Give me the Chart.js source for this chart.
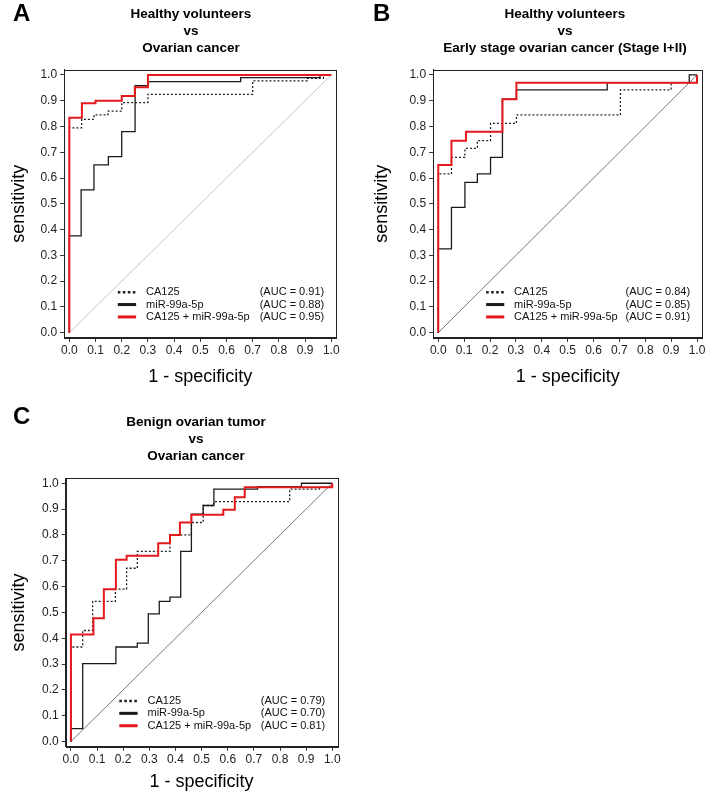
<!DOCTYPE html>
<html>
<head>
<meta charset="utf-8">
<script src="https://cdn.jsdelivr.net/npm/chart.js@4.4.1/dist/chart.umd.min.js"></script>
<style>
  html, body { margin: 0; padding: 0; background: #fff; }
  #page { position: relative; width: 709px; height: 793px; overflow: hidden; font-family: 'Liberation Sans', Arial, sans-serif; }
  canvas { position: absolute; left: 0; top: 0; }
  .letter { position: absolute; font-weight: bold; font-size: 24px; line-height: 24px; color: #000; }
  .title { position: absolute; width: 340px; margin-left: -170px; text-align: center; font-weight: bold; font-size: 13.5px; line-height: 17px; color: #000; }
</style>
</head>
<body>
<div id="page">
  <canvas id="chartA" width="709" height="793"></canvas>
  <canvas id="chartB" width="709" height="793"></canvas>
  <canvas id="chartC" width="709" height="793"></canvas>

  <div class="letter" style="left:13px;top:1px">A</div>
  <div class="title" style="left:191px;top:5px">Healthy volunteers<br>vs<br>Ovarian cancer</div>

  <div class="letter" style="left:373px;top:1px">B</div>
  <div class="title" style="left:565px;top:5px">Healthy volunteers<br>vs<br>Early stage ovarian cancer (Stage I+II)</div>

  <div class="letter" style="left:13px;top:404px">C</div>
  <div class="title" style="left:196px;top:413px">Benign ovarian tumor<br>vs<br>Ovarian cancer</div>
</div>

<script>
// ---- data ----
const tickValues = [0, 0.1, 0.2, 0.3, 0.4, 0.5, 0.6, 0.7, 0.8, 0.9, 1.0];
const seriesNames = ["CA125", "miR-99a-5p", "CA125 + miR-99a-5p"];
const diagFpr = [0, 1];
const diagTpr = [0, 1];

// A: healthy volunteers vs ovarian cancer
const aCa125Fpr = [0, 0, 0.047, 0.094, 0.147, 0.20, 0.30, 0.70, 0.908, 0.97, 1.0];
const aCa125Tpr = [0, 0.795, 0.828, 0.845, 0.86, 0.893, 0.925, 0.977, 0.987, 1.0, 1.0];
const aMirFpr = [0, 0, 0.045, 0.094, 0.149, 0.20, 0.251, 0.302, 0.654, 0.957, 1.0];
const aMirTpr = [0, 0.376, 0.554, 0.651, 0.683, 0.78, 0.959, 0.974, 0.99, 1.0, 1.0];
const aComboFpr = [0, 0, 0.048, 0.10, 0.20, 0.25, 0.30, 1.0];
const aComboTpr = [0, 0.834, 0.89, 0.90, 0.918, 0.952, 1.0, 1.0];
const aucA = ["0.91", "0.88", "0.95"];

// B: healthy volunteers vs early stage ovarian cancer
const bCa125Fpr = [0, 0, 0.051, 0.103, 0.151, 0.202, 0.302, 0.704, 0.90, 1.0];
const bCa125Tpr = [0, 0.616, 0.68, 0.715, 0.745, 0.812, 0.845, 0.942, 0.97, 1.0];
const bMirFpr = [0, 0, 0.051, 0.103, 0.151, 0.202, 0.248, 0.302, 0.653, 0.97, 1.0];
const bMirTpr = [0, 0.325, 0.486, 0.583, 0.616, 0.68, 0.906, 0.942, 0.97, 1.0, 1.0];
const bComboFpr = [0, 0, 0.051, 0.107, 0.248, 0.302, 1.0, 1.0];
const bComboTpr = [0, 0.651, 0.745, 0.78, 0.906, 0.97, 0.97, 1.0];
const aucB = ["0.84", "0.85", "0.91"];

// C: benign ovarian tumor vs ovarian cancer
const cCa125Fpr = [0, 0, 0.045, 0.083, 0.17, 0.213, 0.254, 0.379, 0.461, 0.506, 0.547, 0.837, 0.95, 1.0];
const cCa125Tpr = [0, 0.366, 0.43, 0.543, 0.59, 0.671, 0.736, 0.80, 0.848, 0.914, 0.929, 0.977, 0.985, 1.0];
const cMirFpr = [0, 0, 0.045, 0.172, 0.254, 0.296, 0.338, 0.379, 0.42, 0.461, 0.506, 0.547, 0.714, 0.882, 1.0];
const cMirTpr = [0, 0.05, 0.302, 0.366, 0.381, 0.494, 0.543, 0.559, 0.736, 0.88, 0.914, 0.977, 0.987, 1.0, 1.0];
const cComboFpr = [0, 0, 0.086, 0.126, 0.172, 0.213, 0.334, 0.379, 0.417, 0.461, 0.583, 0.627, 0.665, 1.0, 1.0];
const cComboTpr = [0, 0.414, 0.477, 0.59, 0.704, 0.719, 0.768, 0.80, 0.848, 0.878, 0.897, 0.946, 0.985, 0.985, 1.0];
const aucC = ["0.79", "0.70", "0.81"];

// ---- styling ----
const FONT = "'Liberation Sans', Arial, sans-serif";
const RED = "#e3191c";
const seriesStyles = [
  { color: "#222", width: 1.3, dash: [2, 2], legendWidth: 2.6, legendDash: [2.6, 2.4] },
  { color: "#1a1a1a", width: 1.3, dash: [], legendWidth: 3, legendDash: [] },
  { color: RED, width: 2, dash: [], legendWidth: 3, legendDash: [] },
];
const legendRowOffsets = [40.5, 28.2, 15.8]; // px above y = 0

Chart.defaults.font.family = FONT;

function toPoints(xs, ys) {
  return xs.map((x, i) => ({ x, y: ys[i] }));
}

const boxPlugin = {
  id: "plotBox",
  afterDraw(chart) {
    const { ctx, chartArea: a } = chart;
    ctx.save();
    ctx.strokeStyle = "#222";
    ctx.lineWidth = 1;
    ctx.strokeRect(Math.round(a.left) + 0.5, Math.round(a.top) + 0.5, Math.round(a.right - a.left), Math.round(a.bottom - a.top));
    ctx.restore();
  },
};

const legendPlugin = {
  id: "rocLegend",
  afterDatasetsDraw(chart, args, opts) {
    const { ctx, scales: { x, y } } = chart;
    const y0 = y.getPixelForValue(0);
    const sx0 = x.getPixelForValue(0.185), sx1 = x.getPixelForValue(0.255);
    const tx = x.getPixelForValue(0.293), ax = x.getPixelForValue(0.973);
    ctx.save();
    ctx.font = "11px " + FONT;
    ctx.textBaseline = "middle";
    seriesNames.forEach((name, i) => {
      const st = seriesStyles[i];
      const py = y0 - legendRowOffsets[i];
      ctx.beginPath();
      ctx.setLineDash(st.legendDash);
      ctx.lineWidth = st.legendWidth;
      ctx.strokeStyle = st.color;
      ctx.moveTo(sx0, py);
      ctx.lineTo(sx1, py);
      ctx.stroke();
      ctx.setLineDash([]);
      ctx.fillStyle = "#111";
      ctx.textAlign = "left";
      ctx.fillText(name, tx, py);
      ctx.textAlign = "right";
      ctx.fillText("(AUC = " + opts.auc[i] + ")", ax, py);
    });
    ctx.restore();
  },
};

function buildRocChart(id, geo, curves, auc, diagColor) {
  const yW = geo.l - (geo.yTitleX - 10.8);
  const xH = Math.min(geo.xTitleY + 10.8 - geo.b, 793 - geo.b);
  const xTitlePad = geo.b + xH - 10.8 - geo.xTitleY;

  const stepSet = (c, st) => ({
    data: toPoints(c.fpr, c.tpr),
    borderColor: st.color,
    borderWidth: st.width,
    borderDash: st.dash,
    stepped: "before",
    pointRadius: 0,
    fill: false,
    borderJoinStyle: "miter",
  });

  const datasets = [
    stepSet(curves[2], seriesStyles[2]),
    stepSet(curves[1], seriesStyles[1]),
    stepSet(curves[0], seriesStyles[0]),
    { data: toPoints(diagFpr, diagTpr), borderColor: diagColor, borderWidth: 1, pointRadius: 0, fill: false },
  ];

  const axisCommon = {
    type: "linear",
    min: -0.02,
    max: 1.02,
    afterBuildTicks: (s) => { s.ticks = tickValues.map((v) => ({ value: v })); },
    grid: { drawOnChartArea: false, drawTicks: true, tickLength: 4, color: "#333", tickWidth: 1 },
    border: { display: true, color: "#222", width: 1 },
  };

  return new Chart(document.getElementById(id), {
    type: "line",
    data: { datasets },
    options: {
      responsive: false,
      animation: false,
      devicePixelRatio: 1,
      events: [],
      layout: { padding: { left: geo.l - yW, top: geo.t, right: 709 - geo.r, bottom: 793 - geo.b - xH } },
      plugins: {
        legend: { display: false },
        tooltip: { enabled: false },
        rocLegend: { auc },
      },
      scales: {
        x: {
          ...axisCommon,
          position: "bottom",
          afterFit: (s) => { s.height = xH; s.paddingLeft = 0; s.paddingRight = 0; },
          ticks: { callback: (v) => v.toFixed(1), color: "#222", font: { size: 12 }, padding: 2, maxRotation: 0, autoSkip: false },
          title: { display: true, text: "1 - specificity", color: "#000", font: { size: 18 }, padding: { top: 0, bottom: xTitlePad } },
        },
        y: {
          ...axisCommon,
          position: "left",
          afterFit: (s) => { s.width = yW; s.paddingTop = 0; s.paddingBottom = 0; },
          ticks: { callback: (v) => v.toFixed(1), color: "#222", font: { size: 12 }, padding: 3, autoSkip: false },
          title: { display: true, text: "sensitivity", color: "#000", font: { size: 18 }, padding: { top: 0, bottom: 0 } },
        },
      },
    },
    plugins: [boxPlugin, legendPlugin],
  });
}

buildRocChart("chartA",
  { l: 64.1, t: 69.8, r: 336.5, b: 337.9, yTitleX: 19, xTitleY: 377 },
  [{ fpr: aCa125Fpr, tpr: aCa125Tpr }, { fpr: aMirFpr, tpr: aMirTpr }, { fpr: aComboFpr, tpr: aComboTpr }],
  aucA, "#c8c8c8");

buildRocChart("chartB",
  { l: 433.1, t: 69.8, r: 702.2, b: 337.9, yTitleX: 382, xTitleY: 377 },
  [{ fpr: bCa125Fpr, tpr: bCa125Tpr }, { fpr: bMirFpr, tpr: bMirTpr }, { fpr: bComboFpr, tpr: bComboTpr }],
  aucB, "#7a7a7a");

buildRocChart("chartC",
  { l: 65.7, t: 478.1, r: 337.5, b: 746.7, yTitleX: 19, xTitleY: 782 },
  [{ fpr: cCa125Fpr, tpr: cCa125Tpr }, { fpr: cMirFpr, tpr: cMirTpr }, { fpr: cComboFpr, tpr: cComboTpr }],
  aucC, "#7a7a7a");
</script>
</body>
</html>
